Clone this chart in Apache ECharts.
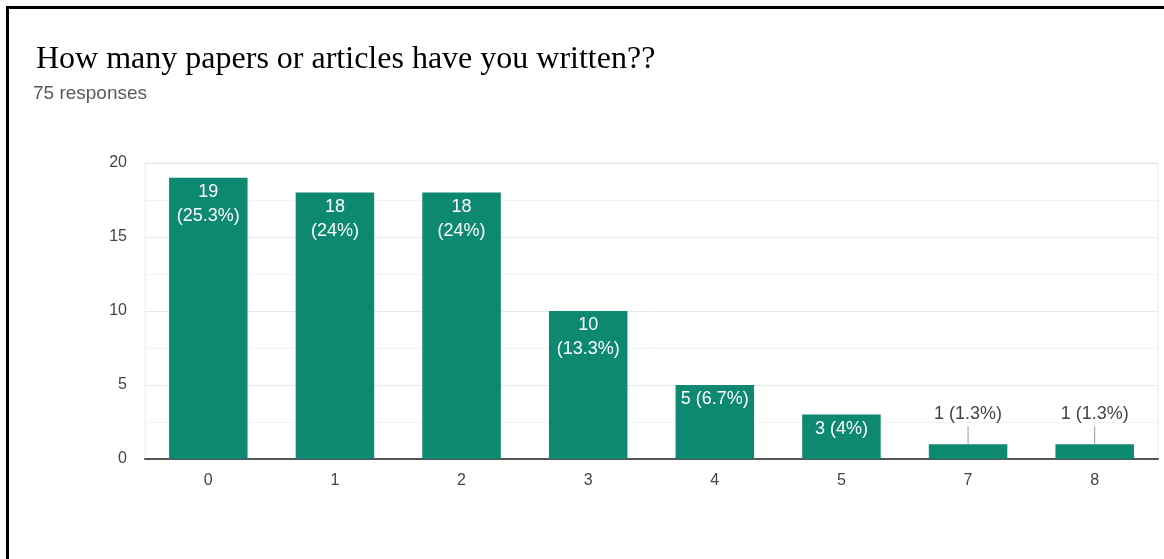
<!DOCTYPE html>
<html>
<head>
<meta charset="utf-8">
<script src="https://cdn.jsdelivr.net/npm/echarts@6/dist/echarts.min.js"></script>
<style>
html,body{margin:0;padding:0;background:#fff;}
#frame{position:absolute;left:6px;top:6px;right:0;bottom:0;border-left:3px solid #000;border-top:3px solid #000;}
#chart{position:absolute;left:0;top:0;width:1164px;height:559px;}
</style>
</head>
<body>
<div id="frame"></div>
<div id="chart"></div>
<script>
const titleText = 'How many papers or articles have you written??';
const subtitleText = '75 responses';
const totalResponses = 75;
const categories = ['0', '1', '2', '3', '4', '5', '7', '8'];
const counts = [19, 18, 18, 10, 5, 3, 1, 1];
const yTicks = [0, 5, 10, 15, 20];

const barColor = '#0d8871';

function pct(v) {
  return Math.round(v / totalResponses * 1000) / 10;
}

const data = counts.map(function (v) {
  const txt = v >= 10 ? (v + '\n(' + pct(v) + '%)') : (v + ' (' + pct(v) + '%)');
  if (v <= 1) {
    return {
      value: v,
      label: { show: true, position: 'top', color: '#444', formatter: txt },
      labelLine: { show: true, lineStyle: { color: '#999', width: 1 } }
    };
  }
  return {
    value: v,
    label: { show: true, position: 'insideTop', distance: 2, color: '#fff', formatter: txt }
  };
});

const chart = echarts.init(document.getElementById('chart'), null, { renderer: 'canvas' });
chart.setOption({
  animation: false,
  backgroundColor: 'transparent',
  title: [
    {
      text: titleText,
      left: 31, top: 39,
      textStyle: { fontFamily: 'Liberation Serif', fontSize: 32, fontWeight: 'normal', color: '#000' }
    },
    {
      text: subtitleText,
      left: 28, top: 79,
      textStyle: { fontFamily: 'Liberation Sans', fontSize: 19, fontWeight: 'normal', color: '#555a60' }
    }
  ],
  grid: { left: 145, right: 6, top: 163, bottom: 100, show: true, borderColor: '#ececec', borderWidth: 1 },
  xAxis: {
    type: 'category',
    data: categories,
    axisLine: { lineStyle: { color: '#555', width: 2 } },
    axisTick: { show: false },
    axisLabel: { color: '#444', fontFamily: 'Liberation Sans', fontSize: 16, margin: 14 },
    splitLine: { show: false }
  },
  yAxis: {
    type: 'value',
    min: yTicks[0], max: yTicks[yTicks.length - 1], interval: yTicks[1] - yTicks[0],
    axisLine: { show: false },
    axisTick: { show: false },
    axisLabel: { color: '#444', fontFamily: 'Liberation Sans', fontSize: 16, margin: 18 },
    splitLine: { lineStyle: { color: '#e8e8e8', width: 1 } },
    minorTick: { show: false, splitNumber: 2 },
    minorSplitLine: { show: true, lineStyle: { color: '#f3f3f3', width: 1 } }
  },
  series: [{
    type: 'bar',
    data: data,
    barCategoryGap: '38%',
    itemStyle: { color: barColor },
    label: { fontFamily: 'Liberation Sans', fontSize: 18, lineHeight: 24 },
    labelLayout: function (params) {
      if (counts[params.dataIndex] <= 1) {
        return { dy: -13 };
      }
      return {};
    }
  }]
});
</script>
</body>
</html>
